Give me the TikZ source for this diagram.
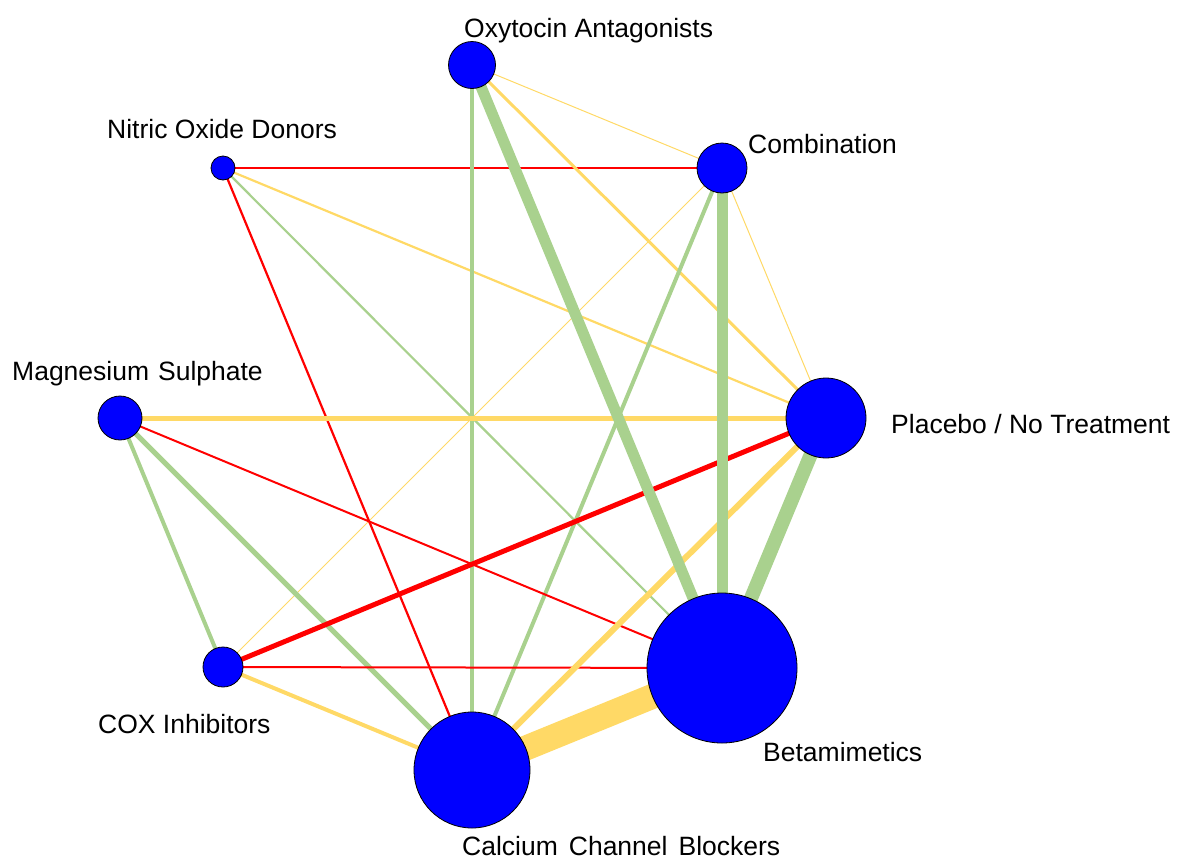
\documentclass[tikz,border=0pt]{standalone}
\usepackage{fontspec}
\setmainfont{Liberation Sans}
\usetikzlibrary{backgrounds}
\definecolor{eg}{HTML}{A9D18E}
\definecolor{ey}{HTML}{FFD966}
\definecolor{er}{HTML}{FF0000}
\definecolor{nb}{HTML}{0000FF}
\begin{document}
\begin{tikzpicture}[x=1pt,y=-1pt,
  trt/.style={circle,fill=nb,draw=black,line width=0.8pt,inner sep=0pt,minimum size=#1},
  lbl/.style={anchor=base west,inner sep=0pt,font=\fontsize{26.5}{30}\selectfont},
  gE/.style={draw=eg,line width=#1},
  yE/.style={draw=ey,line width=#1},
  rE/.style={draw=er,line width=#1}]
\useasboundingbox (0,0) rectangle (1182,860);
% nodes
\node[trt=47pt]  (oxy) at (472,65) {};
\node[trt=24pt]  (no)  at (223,168) {};
\node[trt=50pt]  (comb) at (722,168) {};
\node[trt=44pt]  (mg)  at (120,418) {};
\node[trt=80pt]  (pla) at (826,418) {};
\node[trt=40pt]  (cox) at (223,667) {};
\node[trt=150pt] (beta) at (722,668) {};
\node[trt=116pt] (ccb) at (472,770) {};
% labels
\node[lbl] (loxy)  at (464,37)  {Oxytocin Antagonists};
\node[lbl] (lno)   at (107,138) {Nitric Oxide Donors};
\node[lbl] (lcomb) at (748,153) {Combination};
\node[lbl] (lmg)   at (12,380)  {Magnesium\hspace*{9pt}Sulphate};
\node[lbl] (lpla)  at (891,433) {Placebo / No Treatment};
\node[lbl] (lcox)  at (98,733)  {COX Inhibitors};
\node[lbl] (lbeta) at (763,761) {Betamimetics};
\node[lbl] (lccb)  at (462,855) {Calcium\hspace*{11pt}Channel\hspace*{11pt}Blockers};
% edges
\begin{scope}[on background layer]
\draw[yE=1pt]   (oxy.center) -- (comb.center);
\draw[yE=1pt]   (comb.center) -- (cox.center);
\draw[yE=1pt]   (comb.center) -- (pla.center);
\draw[rE=1.5pt] (no.center) -- (comb.center);
\draw[rE=2.2pt] (no.center) -- (ccb.center);
\draw[gE=2.2pt] (no.center) -- (beta.center);
\draw[yE=2.2pt] (no.center) -- (pla.center);
\draw[yE=3pt]   (oxy.center) -- (pla.center);
\draw[gE=4pt]   (oxy.center) -- (ccb.center);
\draw[gE=4pt]   (comb.center) -- (ccb.center);
\draw[yE=5pt]   (mg.center) -- (pla.center);
\draw[rE=2pt]   (mg.center) -- (beta.center);
\draw[gE=5pt]   (mg.center) -- (ccb.center);
\draw[gE=4pt]   (mg.center) -- (cox.center);
\draw[rE=2pt]   (cox.center) -- (beta.center);
\draw[yE=4pt]   (cox.center) -- (ccb.center);
\draw[yE=6pt]   (pla.center) -- (ccb.center);
\draw[rE=5pt]   (pla.center) -- (cox.center);
\draw[gE=11pt]  (oxy.center) -- (beta.center);
\draw[gE=11pt]  (comb.center) -- (beta.center);
\draw[gE=14pt]  (pla.center) -- (beta.center);
\draw[yE=25pt]  (ccb.center) -- (beta.center);
\end{scope}
\end{tikzpicture}
\end{document}
